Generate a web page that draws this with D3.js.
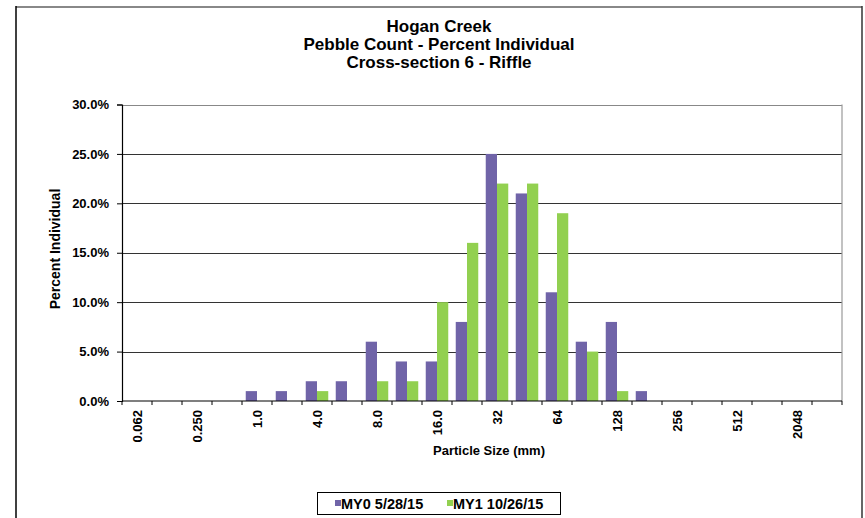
<!DOCTYPE html>
<html>
<head>
<meta charset="utf-8">
<script src="https://cdn.jsdelivr.net/npm/d3@7/dist/d3.min.js"></script>
<style>
  html, body { margin: 0; padding: 0; background: #fff; }
  svg text { font-family: Arial, "Liberation Sans", sans-serif; font-weight: bold; fill: #000; }
</style>
</head>
<body>
<svg id="chart" width="865" height="518"></svg>
<script>
const titleLines = ["Hogan Creek", "Pebble Count - Percent Individual", "Cross-section 6 - Riffle"];
const categories = ["0.062","0.125","0.250","0.5","1.0","2.0","4.0","5.7","8.0","11.3","16.0","22.6","32","45","64","90","128","180","256","362","512","1024","2048","4096"];
const shownLabels = ["0.062","0.250","1.0","4.0","8.0","16.0","32","64","128","256","512","2048"];
const seriesNames = ["MY0 5/28/15", "MY1 10/26/15"];
const my0 = [0,0,0,0,1,1,2,2,6,4,4,8,25,21,11,6,8,1,0,0,0,0,0,0];
const my1 = [0,0,0,0,0,0,1,0,2,2,10,16,22,22,19,5,1,0,0,0,0,0,0,0];
const yTicks = [0,5,10,15,20,25,30];
const colors = ["#7064a8", "#92d050"];

const svg = d3.select("#chart");
const m = {left: 122, right: 842, top: 104.5, bottom: 401};

// outer chart border
svg.append("line").attr("x1",16).attr("x2",862).attr("y1",7).attr("y2",7).attr("stroke","#888").attr("stroke-width",2);
svg.append("line").attr("x1",16).attr("x2",16).attr("y1",6).attr("y2",518).attr("stroke","#000").attr("stroke-width",1.5);
svg.append("line").attr("x1",862).attr("x2",862).attr("y1",6).attr("y2",518).attr("stroke","#333").attr("stroke-width",1.5);

const x = d3.scaleBand().domain(categories).range([m.left, m.right]).padding(0);
const xs = d3.scaleBand().domain(seriesNames).range([0, x.bandwidth()]).paddingInner(0).paddingOuter(0.333);
const y = d3.scaleLinear().domain([0, 30]).range([m.bottom, m.top]);

// gridlines
svg.append("g").selectAll("line").data(yTicks.filter(d => d > 0)).join("line")
  .attr("x1", m.left).attr("x2", m.right)
  .attr("y1", d => Math.round(y(d)) + 0.5).attr("y2", d => Math.round(y(d)) + 0.5)
  .attr("stroke", d => d === 30 ? "#888" : "#333").attr("stroke-width", 1.2);
// plot right border
svg.append("line").attr("x1", m.right).attr("x2", m.right).attr("y1", m.top).attr("y2", m.bottom).attr("stroke", "#999").attr("stroke-width", 1.2);

// bars
const data = categories.map((c, i) => ({c, vals: [my0[i], my1[i]]}));
const groups = svg.append("g").selectAll("g").data(data).join("g")
  .attr("transform", d => `translate(${x(d.c)},0)`);
groups.selectAll("rect").data(d => d.vals.map((v, k) => ({v, k}))).join("rect")
  .filter(d => d.v > 0)
  .attr("x", d => xs(seriesNames[d.k]))
  .attr("width", xs.bandwidth())
  .attr("y", d => y(d.v))
  .attr("height", d => y(0) - y(d.v))
  .attr("fill", d => colors[d.k]);

// y axis
const yAxis = svg.append("g").attr("transform", `translate(${m.left},0)`)
  .call(d3.axisLeft(y).tickValues(yTicks).tickSize(5).tickPadding(8).tickFormat(d => d.toFixed(1) + "%"));
yAxis.select(".domain").attr("stroke", "#000").attr("stroke-width", 1.2);
yAxis.selectAll(".tick line").attr("stroke", "#000");
yAxis.selectAll("text").style("font-size", "13px").style("font-family", "Arial, 'Liberation Sans', sans-serif").style("font-weight", "bold");

// x axis
const xAxisG = svg.append("g").attr("transform", `translate(0,${m.bottom})`);
xAxisG.append("line").attr("x1", m.left).attr("x2", m.right).attr("y1", 0).attr("y2", 0).attr("stroke", "#000").attr("stroke-width", 1.2);
const boundaries = d3.range(categories.length + 1);
xAxisG.selectAll(".xt").data(boundaries).join("line").attr("class", "xt")
  .attr("x1", i => m.left + i * x.step()).attr("x2", i => m.left + i * x.step())
  .attr("y1", 0).attr("y2", 4).attr("stroke", "#000");
xAxisG.selectAll(".xl").data(categories.filter(c => shownLabels.includes(c))).join("text").attr("class", "xl")
  .attr("transform", c => `translate(${x(c) + x.bandwidth() / 2 + 4.5},9) rotate(-90)`)
  .attr("text-anchor", "end")
  .style("font-size", "13px")
  .text(c => c);

// titles
svg.append("g").selectAll("text").data(titleLines).join("text")
  .attr("x", 439).attr("y", (d, i) => 32 + i * 18)
  .attr("text-anchor", "middle").style("font-size", "17px").text(d => d);

svg.append("text").attr("x", 489).attr("y", 455).attr("text-anchor", "middle").style("font-size", "13px").text("Particle Size (mm)");
svg.append("text").attr("transform", "translate(60,249) rotate(-90)").attr("text-anchor", "middle").style("font-size", "14px").text("Percent Individual");

// legend
const lg = svg.append("g");
lg.append("rect").attr("x", 317.5).attr("y", 492.5).attr("width", 243).attr("height", 22).attr("fill", "#fff").attr("stroke", "#000");
const itemsX = [335, 447];
seriesNames.forEach((s, k) => {
  lg.append("rect").attr("x", itemsX[k]).attr("y", 500).attr("width", 6).attr("height", 6).attr("fill", colors[k]);
  lg.append("text").attr("x", itemsX[k] + 6).attr("y", 508.5).style("font-size", "14.5px").text(s);
});
</script>
</body>
</html>
